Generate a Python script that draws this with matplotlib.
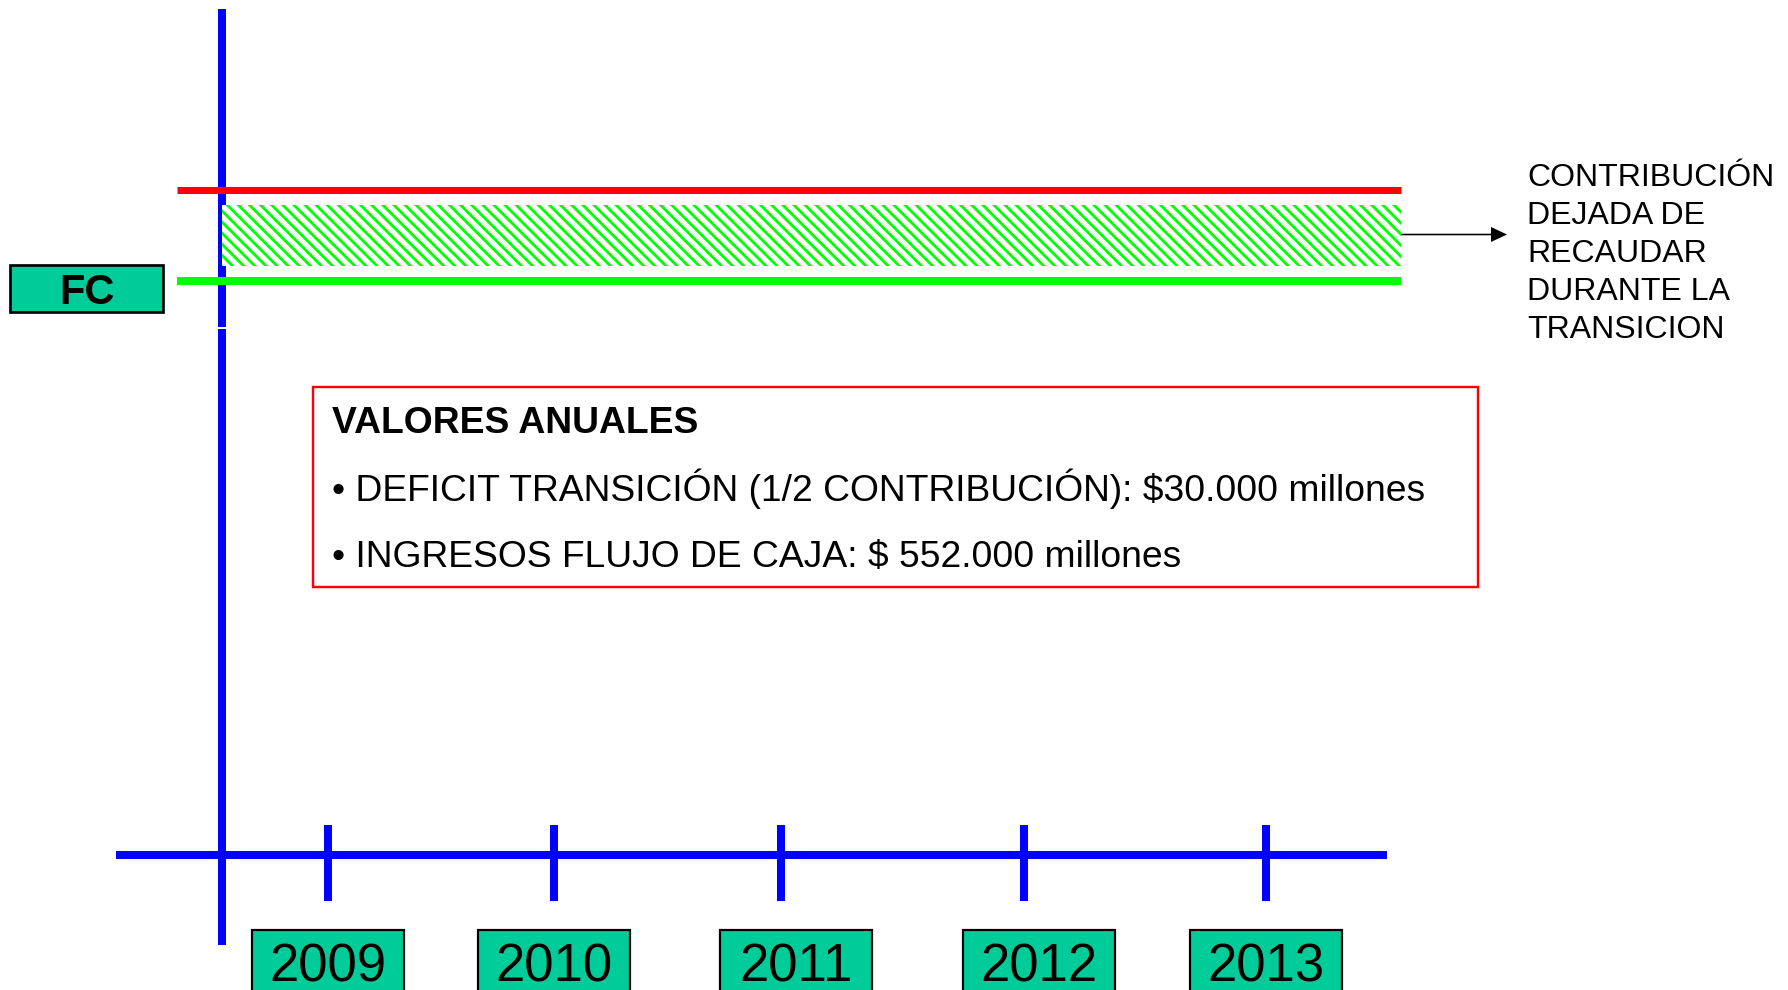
import matplotlib
matplotlib.use("Agg")
import matplotlib.pyplot as plt
from matplotlib.patches import Rectangle

plt.rcParams['font.family'] = ['Liberation Sans', 'DejaVu Sans']
plt.rcParams['hatch.linewidth'] = 2.0

# ---- content ----
years = ['2009', '2010', '2011', '2012', '2013']
fc_label = 'FC'
side_label_lines = ['CONTRIBUCIÓN', 'DEJADA DE', 'RECAUDAR', 'DURANTE LA', 'TRANSICION']
info_title = 'VALORES ANUALES'
info_lines = ['• DEFICIT TRANSICIÓN (1/2 CONTRIBUCIÓN): $30.000 millones',
              '• INGRESOS FLUJO DE CAJA: $ 552.000 millones']

# ---- layout (pixel coordinates of the 1788x990 canvas) ----
tick_x = [328, 554, 781, 1024, 1266]
label_x = [328, 554, 796, 1039, 1266]
axis_y = 855
vaxis_x = 222
red_y = 190
green_y = 281
band_top, band_bottom = 205, 266
line_x0, line_x1 = 177, 1401

BLUE = '#0000FF'
RED = '#FF0000'
GREEN = '#00FF00'
TEAL = '#00CC99'
PX = 0.72  # points per pixel at dpi 100

fig = plt.figure(figsize=(17.88, 9.9), dpi=100)
ax = fig.add_axes([0, 0, 1, 1])
ax.set_xlim(0, 1788)
ax.set_ylim(990, 0)
ax.axis('off')

# vertical axis (two segments with a tiny gap)
ax.plot([vaxis_x, vaxis_x], [9, 327], color=BLUE, lw=8 * PX, solid_capstyle='butt', zorder=2)
ax.plot([vaxis_x, vaxis_x], [329, 945], color=BLUE, lw=8 * PX, solid_capstyle='butt', zorder=2)

# horizontal time axis with ticks
ax.plot([116, 1387], [axis_y, axis_y], color=BLUE, lw=8 * PX, solid_capstyle='butt', zorder=2)
for tx in tick_x:
    ax.plot([tx, tx], [825, 901], color=BLUE, lw=8 * PX, solid_capstyle='butt', zorder=2)

# year boxes
for lx, yr in zip(label_x, years):
    ax.add_patch(Rectangle((lx - 76, 930), 152, 80, facecolor=TEAL, edgecolor='black',
                           lw=2.2 * PX, zorder=3, clip_on=False))
    ax.text(lx, 982, yr, ha='center', va='baseline', fontsize=38, color='black', zorder=4)

# hatched band
ax.add_patch(Rectangle((vaxis_x, band_top), line_x1 - vaxis_x, band_bottom - band_top,
                       facecolor='white', edgecolor=GREEN, hatch='\\\\\\', lw=0, zorder=3))

# red and green level lines
ax.plot([line_x0, line_x1], [red_y, red_y], color=RED, lw=7 * PX, solid_capstyle='butt', zorder=4)
ax.plot([line_x0, line_x1], [green_y, green_y], color=GREEN, lw=8 * PX, solid_capstyle='butt', zorder=4)

# FC box
ax.add_patch(Rectangle((10, 265), 153, 47, facecolor=TEAL, edgecolor='black', lw=2.7 * PX, zorder=3))
ax.text(86.5, 304, fc_label, ha='center', va='baseline', fontsize=30, fontweight='bold',
        color='black', zorder=4)

# arrow to side label
ax.arrow(1401, 234.5, 106, 0, width=1.6, head_width=15, head_length=16,
         length_includes_head=True, fc='black', ec='black', lw=0, zorder=4)

for i, s in enumerate(side_label_lines):
    ax.text(1527, 186 + 37.9 * i, s, ha='left', va='baseline', fontsize=23, color='black')

# info box
ax.add_patch(Rectangle((312.5, 386.5), 1165, 200, facecolor='none', edgecolor=RED,
                       lw=2.4 * PX, zorder=3))
ax.text(332, 433, info_title, ha='left', va='baseline', fontsize=26.8, fontweight='bold', color='black')
for i, s in enumerate(info_lines):
    ax.text(332, 501 + 66 * i, s, ha='left', va='baseline', fontsize=26.8, color='black')

fig.savefig('out.png', dpi=100)
